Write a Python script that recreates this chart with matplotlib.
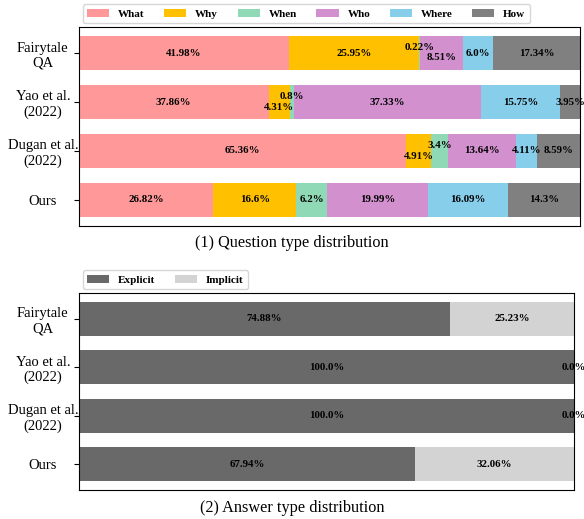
import numpy as np
import matplotlib
matplotlib.use('Agg')
import matplotlib.pyplot as plt

plt.rcParams['font.family'] = ['Liberation Serif', 'DejaVu Serif']

# ─── 데이터 ────────────────────────────────────────────────────────────
datasets = ['Fairytale\nQA', 'Yao et al.\n(2022)', 'Dugan et al.\n(2022)', 'Ours']

q_types = ['What', 'Why', 'When', 'Who', 'Where', 'How']
q_colors = ['#FF9999', '#FFC000', '#8FD9B6', '#D291CE', '#87CEEB', '#808080']
q_vals = {
    'What':  [41.98, 37.86, 65.36, 26.82],
    'Why':   [25.95, 4.31, 4.91, 16.6],
    'When':  [0.22, 0.8, 3.4, 6.2],
    'Who':   [8.51, 37.33, 13.64, 19.99],
    'Where': [6.0, 15.75, 4.11, 16.09],
    'How':   [17.34, 3.95, 8.59, 14.3],
}

a_types = ['Explicit', 'Implicit']
a_colors = ['#696969', '#D3D3D3']
a_vals = {
    'Explicit': [74.88, 100.0, 100.0, 67.94],
    'Implicit': [25.23, 0.0, 0.0, 32.06],
}

# 겹치는 작은 구간 라벨의 세로 이동량 (행, 유형) -> 막대 단위
shift = {(0, 'When'): -0.11, (0, 'Who'): 0.09,
         (1, 'Why'): 0.11, (1, 'When'): -0.11,
         (2, 'Why'): 0.11, (2, 'When'): -0.11}

fig = plt.figure(figsize=(5.84, 5.19), dpi=100)
ax1 = fig.add_axes([0.135, 0.5645, 0.858, 0.3835])
ax2 = fig.add_axes([0.135, 0.056, 0.848, 0.3795])

y = np.arange(len(datasets))


def stacked(ax, types, colors, vals):
    left = np.zeros(len(datasets))
    for t, c in zip(types, colors):
        v = np.array(vals[t])
        ax.barh(y, v, left=left, height=0.7, color=c, label=t)
        for i in range(len(datasets)):
            ax.text(left[i] + v[i] / 2, y[i] + shift.get((i, t), 0.0),
                    f'{v[i]}%', ha='center', va='center',
                    fontsize=7.8, fontweight='bold', clip_on=False)
        left += v
    ax.set_xlim(0, 100)
    ax.invert_yaxis()
    ax.set_yticks(y)
    ax.set_yticklabels(datasets, fontsize=10.5)
    for lab in ax.get_yticklabels():
        lab.set_ha('center')
        lab.set_multialignment('center')
    ax.tick_params(axis='y', pad=22.4)
    ax.set_xticks([])
    ax.legend(loc='lower left', bbox_to_anchor=(0, 1.0), ncol=len(types),
              prop={'weight': 'bold', 'size': 8}, borderaxespad=0.35,
              columnspacing=1.75)


stacked(ax1, q_types, q_colors, q_vals)
stacked(ax2, a_types, a_colors, a_vals)

fig.text(0.5, 1 - 243 / 519, '(1) Question type distribution',
         ha='center', va='center', fontsize=11.7)
fig.text(0.5, 1 - 508 / 519, '(2) Answer type distribution',
         ha='center', va='center', fontsize=11.7)

plt.savefig('out.png', dpi=100, facecolor='white')
